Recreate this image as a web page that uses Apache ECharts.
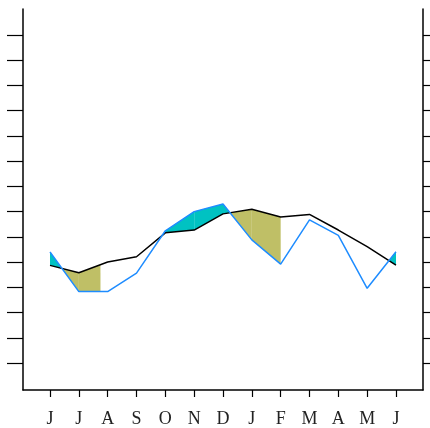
<!DOCTYPE html>
<html>
<head>
<meta charset="utf-8">
<script src="https://cdn.jsdelivr.net/npm/echarts@6/dist/echarts.min.js"></script>
<style>
html,body{margin:0;padding:0;background:#fff;}
#c{width:430px;height:428px;}
</style>
</head>
<body>
<div id="c"></div>
<script>
// Month labels (x-axis)
var months = ['J','J','A','S','O','N','D','J','F','M','A','M','J'];
// Blue series values
var blueValues  = [4.40, 2.83, 2.83, 3.56, 5.24, 6.00, 6.30, 4.88, 3.92, 5.67, 5.06, 2.96, 4.41];
// Black series values
var blackValues = [3.87, 3.58, 4.00, 4.21, 5.16, 5.27, 5.91, 6.09, 5.79, 5.89, 5.27, 4.61, 3.88];
// y tick values (unlabelled)
var yTicks = [0,1,2,3,4,5,6,7,8,9,10,11,12,13];
// x ranges (month index) where the "black above blue" fill is shown
var oliveRanges = [[0, 1.75], [6, 8]];

var xTicks = months.map(function(_, i){ return i; });

function lerp(a, b, t){ return a + (b - a) * t; }
function valAt(arr, x){
  var i = Math.min(Math.floor(x), arr.length - 2);
  return lerp(arr[i], arr[i+1], x - i);
}

// Build fill pieces [x0, x1, type]
var pieces = [];
for (var i = 0; i < months.length - 1; i++) {
  var d0 = blueValues[i] - blackValues[i];
  var d1 = blueValues[i+1] - blackValues[i+1];
  var cuts = [i];
  if (d0 * d1 < 0) cuts.push(i + d0 / (d0 - d1));
  cuts.push(i + 1);
  for (var k = 0; k < cuts.length - 1; k++) {
    var a = cuts[k], b = cuts[k+1];
    var mid = (a + b) / 2;
    var d = valAt(blueValues, mid) - valAt(blackValues, mid);
    if (d > 0) {
      pieces.push([a, b, 'teal']);
    } else if (d < 0) {
      oliveRanges.forEach(function(r){
        var lo = Math.max(a, r[0]), hi = Math.min(b, r[1]);
        if (hi > lo) pieces.push([lo, hi, 'olive']);
      });
    }
  }
}

var chart = echarts.init(document.getElementById('c'), null, {renderer: 'canvas'});
var axisLineStyle = {color: '#000', width: 1.5};

chart.setOption({
  animation: false,
  backgroundColor: '#fff',
  grid: {left: 23, right: 7, top: 9, bottom: 38, containLabel: false},
  xAxis: {
    type: 'value',
    min: -0.937, max: 12.937,
    splitLine: {show: false},
    axisLine: {show: true, onZero: false, lineStyle: axisLineStyle},
    axisTick: {show: true, length: 7, inside: false, customValues: xTicks, lineStyle: {color: '#000', width: 1.2}},
    axisLabel: {
      show: true, customValues: xTicks, margin: 20,
      formatter: function(v){ return months[Math.round(v)]; },
      fontFamily: 'Liberation Serif', fontSize: 18, color: '#222'
    }
  },
  yAxis: [{
    type: 'value', position: 'left',
    min: -1.07, max: 14.03,
    splitLine: {show: false},
    axisLine: {show: true, onZero: false, lineStyle: axisLineStyle},
    axisTick: {show: true, length: 16, customValues: yTicks, lineStyle: {color: '#000', width: 1.2}},
    axisLabel: {show: false}
  }, {
    type: 'value', position: 'right',
    min: -1.07, max: 14.03,
    splitLine: {show: false},
    axisLine: {show: true, onZero: false, lineStyle: axisLineStyle},
    axisTick: {show: true, length: 16, customValues: yTicks, lineStyle: {color: '#000', width: 1.2}},
    axisLabel: {show: false}
  }],
  series: [{
    type: 'custom',
    z: 1,
    silent: true,
    data: pieces.map(function(p, idx){ return [p[0], p[1], idx]; }),
    renderItem: function(params, api){
      var p = pieces[params.dataIndex];
      var a = p[0], b = p[1];
      var pts = [
        api.coord([a, valAt(blueValues, a)]),
        api.coord([b, valAt(blueValues, b)]),
        api.coord([b, valAt(blackValues, b)]),
        api.coord([a, valAt(blackValues, a)])
      ];
      return {
        type: 'polygon',
        shape: {points: pts},
        style: {fill: p[2] === 'teal' ? '#00C2C2' : '#BFBF66', stroke: null}
      };
    },
    encode: {x: [0, 1], y: []}
  }, {
    type: 'line',
    z: 3,
    symbol: 'none',
    data: blackValues.map(function(v, i){ return [i, v]; }),
    lineStyle: {color: '#000', width: 1.5}
  }, {
    type: 'line',
    z: 4,
    symbol: 'none',
    data: blueValues.map(function(v, i){ return [i, v]; }),
    lineStyle: {color: '#1E8CFF', width: 1.5}
  }]
});
</script>
</body>
</html>
